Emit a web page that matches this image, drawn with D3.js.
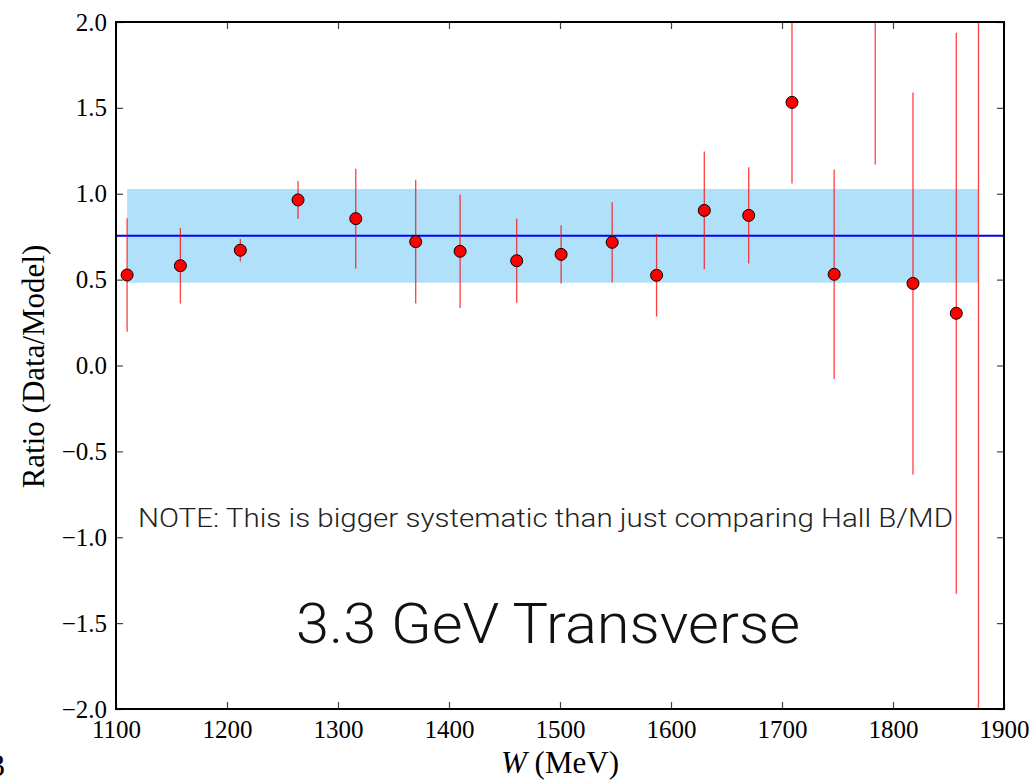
<!DOCTYPE html>
<html>
<head>
<meta charset="utf-8">
<script src="https://cdn.jsdelivr.net/npm/d3@7"></script>
<style>
  html, body { margin: 0; padding: 0; background: #fff; }
  svg { display: block; }
</style>
</head>
<body>
<svg id="chart" width="1035" height="781"></svg>
<script>
// Invariant mass W (MeV) of each bin
const W = [1110, 1158, 1212, 1264, 1316, 1370, 1410, 1461, 1501, 1547, 1587, 1630, 1670, 1709, 1747, 1784, 1818, 1857, 1877];
// Data / model ratio in each bin
const ratio = [0.527, 0.581, 0.671, 0.964, 0.855, 0.721, 0.665, 0.610, 0.647, 0.717, 0.525, 0.903, 0.874, 1.532, 0.531, 2.45, 0.478, 0.304, 2.8];
// Symmetric uncertainty on each ratio
const err = [0.33, 0.22, 0.065, 0.11, 0.29, 0.36, 0.33, 0.245, 0.17, 0.234, 0.24, 0.343, 0.28, 0.473, 0.61, 1.28, 1.112, 1.633, 5.5];

// Average ratio and its systematic spread
const meanRatio = 0.755;
const spread = 0.273;

const xTicks = [1100, 1200, 1300, 1400, 1500, 1600, 1700, 1800, 1900];
const yTicks = [-2.0, -1.5, -1.0, -0.5, 0.0, 0.5, 1.0, 1.5, 2.0];

const note = "NOTE: This is bigger systematic than just comparing Hall B/MD";
const title = "3.3 GeV Transverse";

const svg = d3.select("#chart");
const mLeft = 116, mRight = 1004, mTop = 22, mBottom = 709;

const x = d3.scaleLinear().domain([1100, 1900]).range([mLeft, mRight]);
const y = d3.scaleLinear().domain([-2, 2]).range([mBottom, mTop]);

const data = W.map((w, i) => ({ w, v: ratio[i], e: err[i] }));

svg.append("defs").append("clipPath").attr("id", "plot")
  .append("rect").attr("x", mLeft).attr("y", mTop)
  .attr("width", mRight - mLeft).attr("height", mBottom - mTop);

const plot = svg.append("g").attr("clip-path", "url(#plot)");

// systematic band between the first and last bins
plot.append("rect")
  .attr("x", x(d3.min(W))).attr("width", x(d3.max(W)) - x(d3.min(W)))
  .attr("y", y(meanRatio + spread)).attr("height", y(meanRatio - spread) - y(meanRatio + spread))
  .attr("fill", "#b0e0fa");

// average ratio
plot.append("line")
  .attr("x1", mLeft).attr("x2", mRight)
  .attr("y1", y(meanRatio)).attr("y2", y(meanRatio))
  .attr("stroke", "#0000ff").attr("stroke-width", 2);

// error bars
plot.selectAll("line.err").data(data).join("line")
  .attr("class", "err")
  .attr("x1", d => x(d.w)).attr("x2", d => x(d.w))
  .attr("y1", d => y(d.v + d.e)).attr("y2", d => y(d.v - d.e))
  .attr("stroke", "#ff0000").attr("stroke-opacity", 0.75).attr("stroke-width", 1.3);

// data points
plot.selectAll("circle").data(data).join("circle")
  .attr("cx", d => x(d.w)).attr("cy", d => y(d.v)).attr("r", 6)
  .attr("fill", "#ff0000").attr("stroke", "#000").attr("stroke-width", 1);

// axes with inward ticks on all four sides
const tickLen = 7;
const axisG = svg.append("g");
axisG.append("g").attr("transform", `translate(0,${mBottom})`)
  .call(d3.axisBottom(x).tickValues(xTicks).tickSizeInner(-tickLen).tickSizeOuter(0).tickPadding(11).tickFormat(d3.format("d")));
axisG.append("g").attr("transform", `translate(0,${mTop})`)
  .call(d3.axisTop(x).tickValues(xTicks).tickSizeInner(-tickLen).tickSizeOuter(0).tickFormat(""));
axisG.append("g").attr("transform", `translate(${mLeft},0)`)
  .call(d3.axisLeft(y).tickValues(yTicks).tickSizeInner(-tickLen).tickSizeOuter(0).tickPadding(9)
    .tickFormat(d => d3.format(".1f")(d).replace("-", "\u2212")));
axisG.append("g").attr("transform", `translate(${mRight},0)`)
  .call(d3.axisRight(y).tickValues(yTicks).tickSizeInner(-tickLen).tickSizeOuter(0).tickFormat(""));

axisG.selectAll(".domain").remove();
axisG.selectAll(".tick line").attr("stroke", "#444").attr("stroke-width", 1.2);
axisG.selectAll(".tick text")
  .attr("font-family", "'Liberation Serif', 'Times New Roman', serif")
  .attr("font-size", 25).attr("fill", "#000");

// frame
svg.append("rect")
  .attr("x", mLeft).attr("y", mTop).attr("width", mRight - mLeft).attr("height", mBottom - mTop)
  .attr("fill", "none").attr("stroke", "#000").attr("stroke-width", 2);

// axis titles
svg.append("text")
  .attr("transform", `translate(44,${(mTop + mBottom) / 2 + 1}) rotate(-90)`)
  .attr("text-anchor", "middle")
  .attr("font-family", "'Liberation Serif', 'Times New Roman', serif")
  .attr("font-size", 31)
  .text("Ratio (Data/Model)");

const xl = svg.append("text")
  .attr("x", (mLeft + mRight) / 2).attr("y", 773)
  .attr("text-anchor", "middle")
  .attr("font-family", "'Liberation Serif', 'Times New Roman', serif")
  .attr("font-size", 31);
xl.append("tspan").attr("font-style", "italic").text("W");
xl.append("tspan").text(" (MeV)");

// annotations
svg.append("text")
  .attr("x", 138).attr("y", 527)
  .attr("font-family", "Roboto, 'Liberation Sans', sans-serif")
  .attr("font-weight", 300)
  .attr("font-size", 26).attr("fill", "#222")
  .attr("textLength", 815).attr("lengthAdjust", "spacingAndGlyphs")
  .text(note);

svg.append("text")
  .attr("x", 296).attr("y", 643)
  .attr("font-family", "Roboto, 'Liberation Sans', sans-serif")
  .attr("font-weight", 300)
  .attr("font-size", 55).attr("fill", "#111")
  .attr("textLength", 504).attr("lengthAdjust", "spacingAndGlyphs")
  .text(title);

// edge fragment of a neighbouring label
svg.append("text").attr("x", -11).attr("y", 776)
  .attr("font-family", "'Liberation Serif', serif").attr("font-size", 32).text("3");
</script>
</body>
</html>
